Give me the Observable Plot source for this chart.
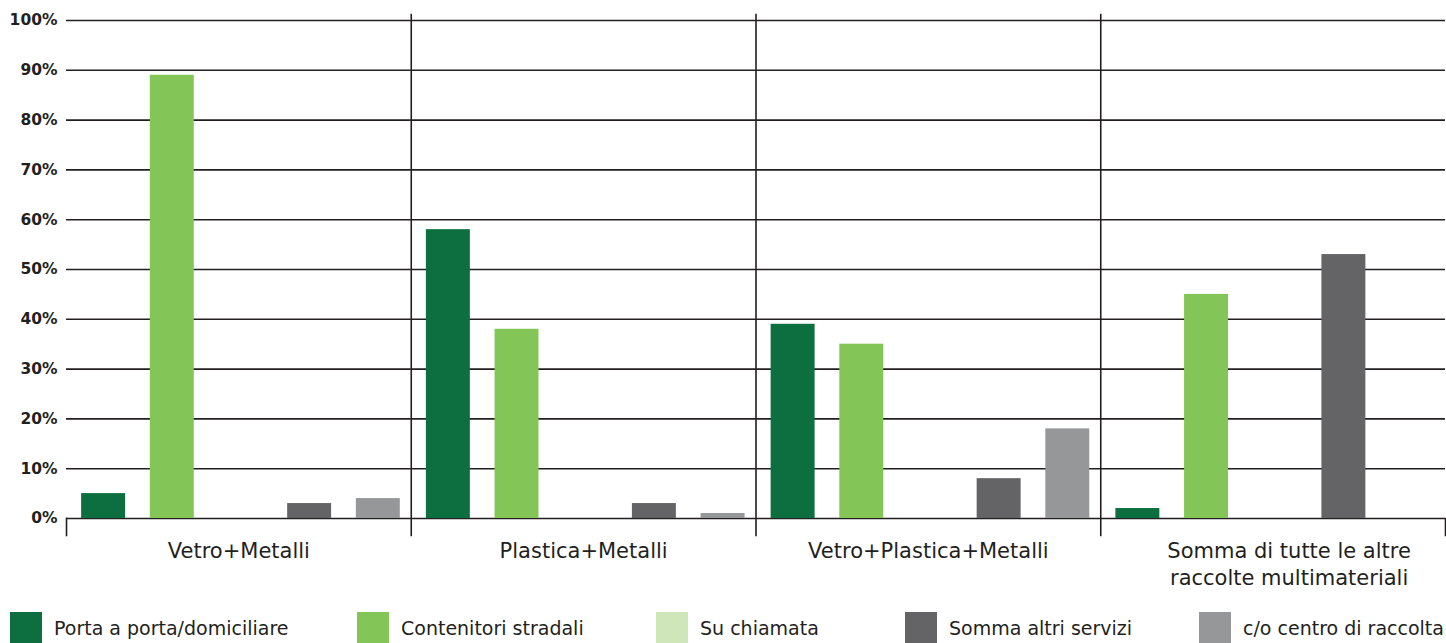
<!DOCTYPE html>
<html><head><meta charset="utf-8">
<script src="https://cdn.jsdelivr.net/npm/d3@7"></script>
<script src="https://cdn.jsdelivr.net/npm/@observablehq/plot@0.6"></script>
<style>
body{margin:0;background:#fff;font-family:"DejaVu Sans",sans-serif;}
#chart{width:1446px;height:595px;}
#legend{position:relative;height:48px;width:1446px;}
.item{position:absolute;bottom:0;display:flex;align-items:center;height:31px;font-size:19px;color:#231f20;white-space:nowrap;}
.sw{width:32px;height:31px;margin-right:12px;flex:none;}
</style></head><body><div id="chart"></div><div id="legend"></div>
<script>
// ---- data ----
const groups = ["Vetro+Metalli", "Plastica+Metalli", "Vetro+Plastica+Metalli", "Somma di tutte le altre\nraccolte multimateriali"];
const series = ["Porta a porta/domiciliare", "Contenitori stradali", "Su chiamata", "Somma altri servizi", "c/o centro di raccolta"];
const vetroMetalli = [5, 89, 0, 3, 4];
const plasticaMetalli = [58, 38, 0, 3, 1];
const vetroPlasticaMetalli = [39, 35, 0, 8, 18];
const altreRaccolte = [2, 45, 0, 53, 0];
const yTicks = [0, 10, 20, 30, 40, 50, 60, 70, 80, 90, 100];
const colors = ["#0d6e3f", "#84c557", "#cfe6b8", "#646466", "#969799"];

// ---- layout ----
const W = 1446, H = 595, MT = 20, MB = 77, ML = 66, MR = 1;
const legendX = [10, 357, 656, 905, 1199];
const ink = "#231f20";

const valuesByGroup = [vetroMetalli, plasticaMetalli, vetroPlasticaMetalli, altreRaccolte];
const rows = [];
groups.forEach((g, i) => series.forEach((s, j) => rows.push({group: g, series: s, value: valuesByGroup[i][j]})));

const plotH = H - MT - MB;
const sepStyle = {stroke: ink, strokeWidth: 1.6};
const fxText = {fx: d => d, text: d => d, frameAnchor: "bottom", lineAnchor: "top", dy: 20, fontSize: 21, lineHeight: 1.29, fill: ink};

const chart = Plot.plot({
  width: W, height: H,
  marginTop: MT, marginBottom: MB, marginLeft: ML, marginRight: MR,
  style: {fontFamily: "'DejaVu Sans', sans-serif", background: "#fff", color: ink, overflow: "visible"},
  fx: {domain: groups, padding: 0, label: null, round: false, axis: null},
  x: {domain: series, axis: null, paddingInner: 0.36, paddingOuter: 0.19, align: 0.58, round: false},
  y: {domain: [0, 100], label: null},
  color: {domain: series, range: colors},
  marks: [
    Plot.ruleY(yTicks, {stroke: ink, strokeWidth: 1.6}),
    Plot.barY(rows, {fx: "group", x: "series", y: "value", fill: "series"}),
    ...groups.slice(1).map(g => Plot.frame({anchor: "left", fx: g, insetTop: -6, insetBottom: -17, ...sepStyle})),
    Plot.frame({anchor: "left", fx: groups[0], insetTop: plotH, insetBottom: -17, ...sepStyle}),
    Plot.frame({anchor: "right", fx: groups[groups.length - 1], insetTop: plotH, insetBottom: -17, ...sepStyle}),
    Plot.axisY(yTicks, {tickSize: 0, tickPadding: 9, tickFormat: d => d + "%", fontSize: 15.5, fontWeight: "bold", label: null, fill: ink}),
    Plot.text(groups.slice(0, 3), fxText),
    Plot.text(groups.slice(3), {...fxText, dx: 16})
  ]
});
document.getElementById("chart").appendChild(chart);

const legend = document.getElementById("legend");
series.forEach((s, i) => {
  const item = document.createElement("div");
  item.className = "item";
  item.style.left = legendX[i] + "px";
  const sw = document.createElement("div");
  sw.className = "sw";
  sw.style.background = colors[i];
  const t = document.createElement("span");
  t.textContent = s;
  item.appendChild(sw); item.appendChild(t);
  legend.appendChild(item);
});
</script></body></html>
